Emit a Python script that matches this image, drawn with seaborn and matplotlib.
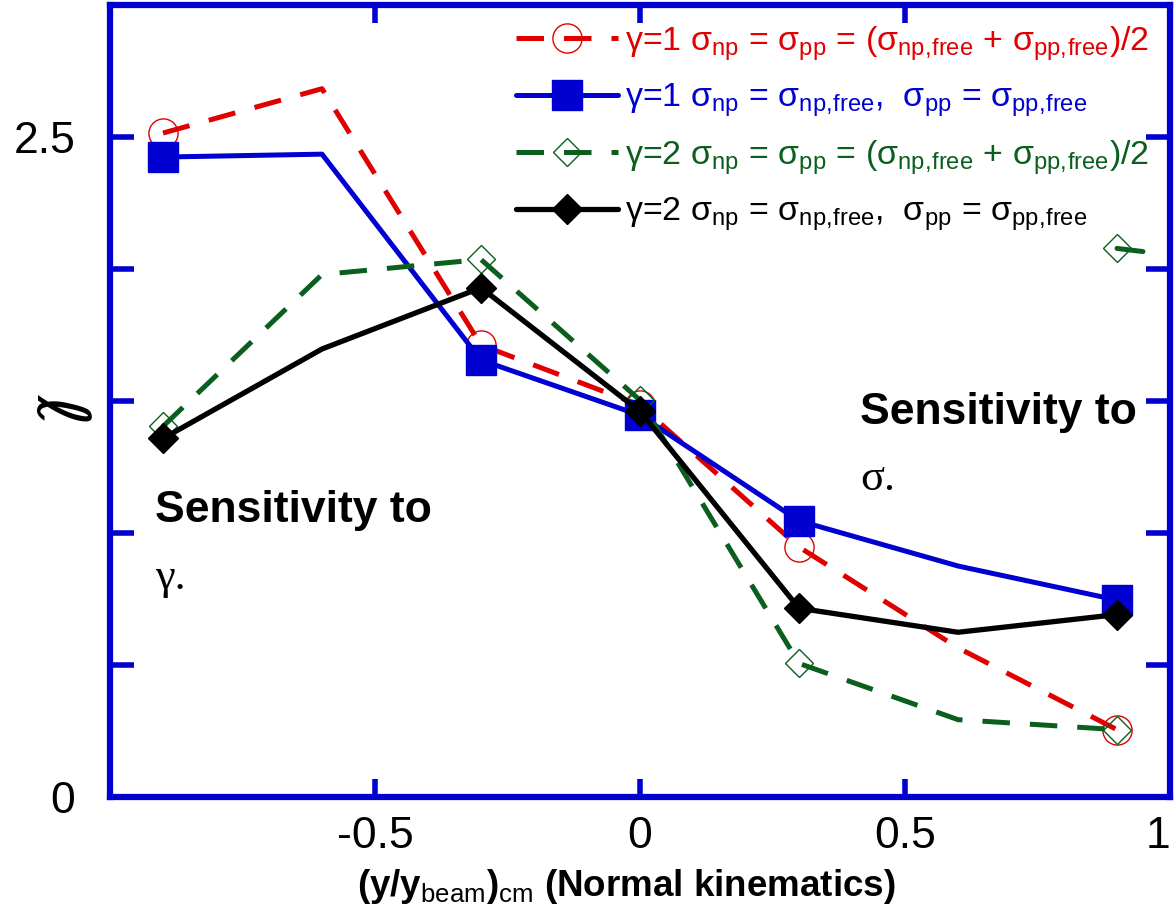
import matplotlib
matplotlib.use("Agg")
import matplotlib.pyplot as plt
import seaborn as sns

# ---------------- data ----------------
x_vals = [-0.9, -0.6, -0.3, 0.0, 0.3, 0.6, 0.9]
red_y = [2.515, 2.683, 1.712, 1.484, 0.947, 0.565, 0.255]
blue_y = [2.424, 2.435, 1.655, 1.446, 1.046, 0.875, 0.746]
green_y = [1.404, 1.979, 2.036, 1.503, 0.506, 0.293, 0.255]
black_y = [1.358, 1.697, 1.929, 1.461, 0.715, 0.624, 0.691]
stray_x = [0.9, 0.949]
stray_y = [2.078, 2.066]
marked_idx = [0, 2, 3, 4, 6]

series_labels = [
    r"γ=1 σ$_{\rm np}$ = σ$_{\rm pp}$ = (σ$_{\rm np,\!free}$ + σ$_{\rm pp,\!free}$)/2",
    r"γ=1 σ$_{\rm np}$ = σ$_{\rm np,\!free}$,  σ$_{\rm pp}$ = σ$_{\rm pp,\!free}$",
    r"γ=2 σ$_{\rm np}$ = σ$_{\rm pp}$ = (σ$_{\rm np,\!free}$ + σ$_{\rm pp,\!free}$)/2",
    r"γ=2 σ$_{\rm np}$ = σ$_{\rm np,\!free}$,  σ$_{\rm pp}$ = σ$_{\rm pp,\!free}$",
]
xtick_vals = [-1.0, -0.5, 0.0, 0.5, 1.0]
xtick_labels = ["", "-0.5", "0", "0.5", "1"]
ytick_vals = [0.0, 0.5, 1.0, 1.5, 2.0, 2.5, 3.0]
ytick_labels = ["0", "", "", "", "", "2.5", ""]
xlabel = r"(y/y$_{\rm beam}$)$_{\rm cm}$ (Normal kinematics)"

RED = "#e00000"
BLUE = "#0000d0"
GREEN = "#0a5f1e"
BLACK = "#000000"

sns.set_style("white")
plt.rcParams["font.family"] = ["Liberation Sans", "DejaVu Sans"]
plt.rcParams["mathtext.fontset"] = "custom"
plt.rcParams["mathtext.rm"] = "Liberation Sans"
plt.rcParams["mathtext.it"] = "Liberation Sans:italic"
plt.rcParams["mathtext.bf"] = "Liberation Sans:bold"
plt.rcParams["axes.unicode_minus"] = False
plt.rcParams["text.color"] = "black"
plt.rcParams["axes.labelcolor"] = "black"

fig = plt.figure(figsize=(11.75, 9.17), dpi=100)
ax = fig.add_axes([110 / 1175, 1 - 797 / 917, 1060 / 1175, 792 / 917])

dash = (0, (5.5, 4.0))
common = dict(ax=ax, sort=False, estimator=None, markevery=marked_idx)

sns.lineplot(x=x_vals, y=red_y, color=RED, lw=3.6, linestyle=dash,
             marker="o", markersize=21, markerfacecolor="none",
             markeredgecolor=RED, markeredgewidth=1.0,
             label=series_labels[0], **common)
sns.lineplot(x=x_vals, y=blue_y, color=BLUE, lw=3.6, linestyle="-",
             marker="s", markersize=22, markerfacecolor=BLUE,
             markeredgecolor=BLUE, markeredgewidth=1.0,
             label=series_labels[1], **common)
sns.lineplot(x=x_vals, y=green_y, color=GREEN, lw=3.6, linestyle=dash,
             marker="D", markersize=14.5, markerfacecolor="none",
             markeredgecolor=GREEN, markeredgewidth=1.0,
             label=series_labels[2], **common)
sns.lineplot(x=x_vals, y=black_y, color=BLACK, lw=3.8, linestyle="-",
             marker="D", markersize=15, markerfacecolor=BLACK,
             markeredgecolor=BLACK, markeredgewidth=1.0,
             label=series_labels[3], **common)
# stray marker near the right edge
sns.lineplot(x=stray_x, y=stray_y, ax=ax, sort=False, estimator=None,
             color=GREEN, lw=3.6, linestyle="-", marker="D", markersize=14.5,
             markerfacecolor="none", markeredgecolor=GREEN,
             markeredgewidth=1.0, markevery=[0], legend=False)

ax.set_xlim(-1.0, 1.0)
ax.set_ylim(0.0, 3.0)
ax.set_xticks(xtick_vals)
ax.set_xticklabels(xtick_labels)
ax.set_yticks(ytick_vals)
ax.set_yticklabels(ytick_labels)

for s in ax.spines.values():
    s.set_color(BLUE)
    s.set_linewidth(4.5)
    s.set_visible(True)

ax.tick_params(axis="x", direction="in", length=13, width=4, color=BLUE,
               top=True, bottom=True, labelsize=32, pad=14, labelcolor="black")
ax.tick_params(axis="y", direction="in", length=17, width=4, color=BLUE,
               left=True, right=True, labelsize=32, pad=25, labelcolor="black")
ax.get_xticklabels()[-1].set_horizontalalignment("right")

ax.set_xlabel(xlabel, fontsize=26.5, fontweight="bold")
ax.xaxis.set_label_coords(0.487, -0.088)
ax.set_ylabel("")

# odd glyph at the 1.5 position of the y axis
ax.text(-0.05, 1.47, "ℓ", transform=ax.get_yaxis_transform(), rotation=-90,
        ha="center", va="center", fontsize=52, family=["DejaVu Sans"])

# annotations
ax.text(-0.915, 1.085, "Sensitivity to", fontsize=32, fontweight="bold",
        ha="left", va="center", color="black")
ax.text(-0.915, 0.83, "γ.", fontsize=32, family="Liberation Serif",
        ha="left", va="center", color="black")
ax.text(0.415, 1.455, "Sensitivity to", fontsize=32, fontweight="bold",
        ha="left", va="center", color="black")
ax.text(0.415, 1.205, "σ.", fontsize=32, family="Liberation Serif",
        ha="left", va="center", color="black")

leg = ax.legend(loc="upper left", bbox_to_anchor=(0.383, 0.976), frameon=False,
                fontsize=24.5, handlelength=3.0, handletextpad=0.2,
                labelspacing=0.56, borderaxespad=0.0, borderpad=0.0,
                labelcolor="linecolor")

fig.savefig("out.png", dpi=100)
